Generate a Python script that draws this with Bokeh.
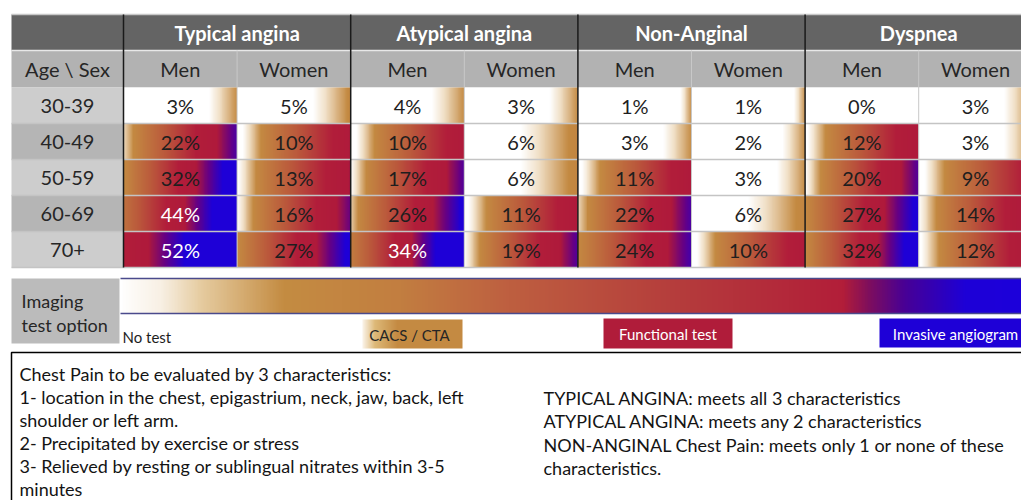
import numpy as np
from bokeh.plotting import figure
from bokeh.models import Range1d
from bokeh.core.properties import value
from bokeh.embed import file_html
from bokeh.resources import INLINE

# ---------------- data ----------------
groups = ["Typical angina", "Atypical angina", "Non-Anginal", "Dyspnea"]
sexes = ["Men", "Women"]
ages = ["30-39", "40-49", "50-59", "60-69", "70+"]
typical_men = [3, 22, 32, 44, 52]
typical_women = [5, 10, 13, 16, 27]
atypical_men = [4, 10, 17, 26, 34]
atypical_women = [3, 6, 6, 11, 19]
nonanginal_men = [1, 3, 11, 22, 24]
nonanginal_women = [1, 2, 3, 6, 10]
dyspnea_men = [0, 12, 20, 27, 32]
dyspnea_women = [3, 3, 9, 14, 12]
test_options = ["No test", "CACS / CTA", "Functional test", "Invasive angiogram"]
imaging_label = ["Imaging", "test option"]
notes_left = [
    "Chest Pain to be evaluated by 3 characteristics:",
    "1- location in the chest, epigastrium, neck, jaw, back, left",
    "shoulder or left arm.",
    "2- Precipitated by exercise or stress",
    "3- Relieved by resting or sublingual nitrates within 3-5",
    "minutes",
]
notes_right = [
    "TYPICAL ANGINA: meets all 3 characteristics",
    "ATYPICAL ANGINA: meets any 2 characteristics",
    "NON-ANGINAL Chest Pain: meets only 1 or none of these",
    "characteristics.",
]

columns = [typical_men, typical_women, atypical_men, atypical_women,
           nonanginal_men, nonanginal_women, dyspnea_men, dyspnea_women]

# ---------------- layout / style ----------------
FONT = value("Lato")
PAGE_W, PAGE_H = 1021, 500


def Y(py):
    return PAGE_H - py


p = figure(width=PAGE_W, height=PAGE_H, x_range=Range1d(0, PAGE_W), y_range=Range1d(0, PAGE_H),
           output_backend="svg", toolbar_location=None, min_border=0,
           x_axis_location=None, y_axis_location=None)
p.grid.visible = False
p.outline_line_color = None
p.background_fill_color = "white"
p.border_fill_color = "white"

TX0 = 11          # table left
AGE_R = 123       # age column right
CW = 113.6        # data column width
ncol = len(columns)
col_edges = [AGE_R + i * CW for i in range(ncol + 1)]
TABLE_R = col_edges[-1]
HDR_T, HDR_B, SUB_B = 14, 50, 87
RH = 36
row_edges = [SUB_B + i * RH for i in range(len(ages) + 1)]

# cell gradient colour scale (level -> colour)
LEV = [0, 0.35, 1, 3, 5, 6.3, 7.2, 8.2]
LEV_C = np.array([(255, 255, 255), (242, 226, 202), (196, 138, 66), (187, 90, 60),
                  (178, 30, 58), (175, 26, 60), (100, 0, 135), (30, 0, 215)], dtype=float)
# how the gradient window of a cell depends on its value
VA = [0, 1, 2, 3, 4, 5, 6, 9, 10, 14, 16, 17, 20, 22, 24, 26, 27, 32, 34, 44, 52]
LA = [-20, -9, -4, -3, -2.5, -2.2, -1.2, -0.3, -0.3, 0, 0, 0, 0, 0.4, 1, 0.5, 1, 1, 1.5, 2, 5]
RA = [0.1, 1, 1, 1, 1, 1.1, 1.2, 5.5, 6, 6.6, 7.2, 7.5, 7.5, 7.6, 7.7, 8.5, 8.6, 9.3, 10.5, 10, 11]


def level_colors(levels):
    out = np.zeros((len(levels), 3))
    for k in range(3):
        out[:, k] = np.interp(levels, LEV, LEV_C[:, k])
    return out


def rgba_image(cols):
    n = len(cols)
    img = np.zeros((2, n), dtype=np.uint32)
    view = img.view(dtype=np.uint8).reshape((2, n, 4))
    for r in range(2):
        view[r, :, 0:3] = np.clip(cols, 0, 255).astype(np.uint8)
        view[r, :, 3] = 255
    return img


N = 240
xs = np.linspace(0, 1, N)

# ---------- header rows ----------
p.quad(left=TX0, right=TABLE_R, top=Y(HDR_T), bottom=Y(HDR_B), fill_color="#646464", line_color=None)
p.quad(left=TX0, right=TABLE_R, top=Y(HDR_B), bottom=Y(SUB_B), fill_color="#B2B2B2", line_color=None)

# age column backgrounds
p.quad(left=[TX0] * len(ages), right=[AGE_R] * len(ages),
       top=[Y(row_edges[i]) for i in range(len(ages))],
       bottom=[Y(row_edges[i + 1]) for i in range(len(ages))],
       fill_color=["#CDCDCD" if i % 2 == 0 else "#B5B5B5" for i in range(len(ages))],
       line_color=None)

# gradient cells
imgs, ix, iy, idw, idh = [], [], [], [], []
tx, ty, tt, tc = [], [], [], []
for c, vals in enumerate(columns):
    for r, v in enumerate(vals):
        L = np.interp(v, VA, LA)
        R = np.interp(v, VA, RA)
        lev = L + (R - L) * xs
        imgs.append(rgba_image(level_colors(lev)))
        ix.append(col_edges[c])
        iy.append(Y(row_edges[r + 1]))
        idw.append(CW)
        idh.append(RH)
        tx.append(col_edges[c] + CW / 2)
        ty.append(Y(row_edges[r] + RH / 2))
        tt.append(f"{v}%")
        tc.append("white" if (L + R) / 2 >= 5.6 else "#1E1E1E")
p.image_rgba(image=imgs, x=ix, y=iy, dw=idw, dh=idh)

# grid lines
p.segment(x0=[TX0], x1=[TABLE_R], y0=[Y(HDR_T)], y1=[Y(HDR_T)], line_color="#C8C8C8", line_width=1.5)
p.segment(x0=[TX0], x1=[TABLE_R], y0=[Y(HDR_B)], y1=[Y(HDR_B)], line_color="#E8E8E8", line_width=1.5)
hy = row_edges[1:]
p.segment(x0=[TX0] * len(hy), x1=[TABLE_R] * len(hy), y0=[Y(v) for v in hy], y1=[Y(v) for v in hy],
          line_color="#C4C4C4", line_width=1.5)
thin = [col_edges[i] for i in range(1, ncol, 2)]
p.segment(x0=thin, x1=thin, y0=[Y(HDR_B)] * len(thin), y1=[Y(row_edges[-1])] * len(thin),
          line_color="#C8C8C8", line_width=1)
thick = [col_edges[i] for i in range(0, ncol, 2)]
p.segment(x0=thick, x1=thick, y0=[Y(HDR_T)] * len(thick), y1=[Y(row_edges[-1])] * len(thick),
          line_color="#1A1A1A", line_width=1.5)

# header texts
p.text(x=[col_edges[2 * g] + CW for g in range(len(groups))], y=[Y((HDR_T + HDR_B) / 2)] * len(groups),
       text=groups, text_font=FONT, text_font_style="bold", text_font_size="20px",
       text_color="white", text_align="center", text_baseline="middle")
sub_x = [TX0 + (AGE_R - TX0) / 2] + [col_edges[c] + CW / 2 for c in range(ncol)]
sub_t = ["Age \\ Sex"] + [sexes[c % 2] for c in range(ncol)]
p.text(x=sub_x, y=[Y((HDR_B + SUB_B) / 2)] * len(sub_x), text=sub_t, text_font=FONT,
       text_font_size="20px", text_color="#262626", text_align="center", text_baseline="middle")
p.text(x=[TX0 + (AGE_R - TX0) / 2] * len(ages), y=[Y(row_edges[i] + RH / 2) for i in range(len(ages))],
       text=ages, text_font=FONT, text_font_size="20px", text_color="#262626",
       text_align="center", text_baseline="middle")
p.text(x=tx, y=ty, text=tt, text_color=tc, text_font=FONT, text_font_size="20px",
       text_align="center", text_baseline="middle")

# ---------- imaging test option bar ----------
BAR_L, BAR_T, BAR_B = 120, 278, 313
p.quad(left=TX0, right=119, top=Y(BAR_T), bottom=Y(343), fill_color="#BBBBBB", line_color=None)
p.text(x=[21, 21], y=[Y(300), Y(324)], text=imaging_label, text_font=FONT, text_font_size="18px",
       text_color="#262626", text_align="left", text_baseline="middle")

bar_px = [120, 160, 200, 283, 400, 510, 680, 843, 870, 905, 943, 965, 1040]
bar_c = np.array([(255, 255, 255), (248, 240, 228), (230, 204, 160), (196, 140, 66), (194, 126, 64),
                  (190, 95, 64), (181, 60, 60), (178, 30, 57), (125, 14, 95), (72, 0, 150),
                  (45, 0, 190), (30, 0, 215), (28, 0, 220)], dtype=float)
NB = 600
bx = np.linspace(BAR_L, 1040, NB)
bcols = np.stack([np.interp(bx, bar_px, bar_c[:, k]) for k in range(3)], axis=1)
p.image_rgba(image=[rgba_image(bcols)], x=[BAR_L], y=[Y(BAR_B)], dw=[1040 - BAR_L], dh=[BAR_B - BAR_T])
p.segment(x0=[BAR_L, BAR_L], x1=[1040, 1040], y0=[Y(BAR_T), Y(BAR_B)], y1=[Y(BAR_T), Y(BAR_B)],
          line_color="#4A4A8C", line_width=1.5)

# option boxes
cacs_x = np.linspace(0, 1, 200)
cacs_c = np.stack([np.interp(cacs_x, [0, 0.12, 0.35, 1], [250, 222, 196, 196]),
                   np.interp(cacs_x, [0, 0.12, 0.35, 1], [242, 185, 138, 138]),
                   np.interp(cacs_x, [0, 0.12, 0.35, 1], [230, 120, 66, 66])], axis=1)
p.image_rgba(image=[rgba_image(cacs_c)], x=[362], y=[Y(348)], dw=[100], dh=[29])
p.quad(left=[603, 879], right=[732, 1040], top=[Y(318), Y(318)], bottom=[Y(348), Y(347)],
       fill_color=["#B01C3A", "#1E00D7"], line_color=None)
p.text(x=[122], y=[Y(336)], text=[test_options[0]], text_font=FONT, text_font_size="15px",
       text_color="#1E1E1E", text_align="left", text_baseline="middle")
p.text(x=[409], y=[Y(334)], text=[test_options[1]], text_font=FONT, text_font_size="15px",
       text_color="#262626", text_align="center", text_baseline="middle")
p.text(x=[667.5, 955], y=[Y(333), Y(333)], text=test_options[2:], text_font=FONT, text_font_size="15px",
       text_color="white", text_align="center", text_baseline="middle")

# ---------- notes box ----------
p.quad(left=TX0, right=1040, top=Y(352), bottom=Y(530), fill_color=None, line_color="black", line_width=1.5)
p.text(x=[19] * len(notes_left), y=[Y(373 + 23.1 * i) for i in range(len(notes_left))], text=notes_left,
       text_font=FONT, text_font_size="18px", text_color="#141414", text_align="left", text_baseline="middle")
p.text(x=[543] * len(notes_right), y=[Y(397 + 23.5 * i) for i in range(len(notes_right))], text=notes_right,
       text_font=FONT, text_font_size="18px", text_color="#141414", text_align="left", text_baseline="middle")

open("out.html", "w").write(file_html(p, INLINE))
